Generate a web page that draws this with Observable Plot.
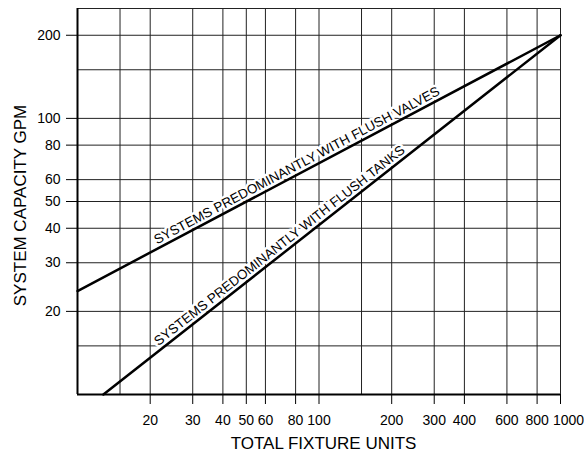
<!DOCTYPE html>
<html><head><meta charset="utf-8">
<script src="https://cdn.jsdelivr.net/npm/d3@7"></script>
<script src="https://cdn.jsdelivr.net/npm/@observablehq/plot@0.6"></script>
<style>body{margin:0;background:#fff} #chart{width:584px;height:452px}</style>
</head><body><div id="chart"></div>
<script>
// Data (log-log chart)
const xTicks = [20, 30, 40, 50, 60, 80, 100, 200, 300, 400, 600, 800, 1000];
const yTicks = [20, 30, 40, 50, 60, 80, 100, 200];
const xGrid = [15, 20, 30, 40, 50, 60, 80, 100, 150, 200, 300, 400, 600, 800];
const yGrid = [15, 20, 30, 40, 50, 60, 80, 100, 150, 200];
const valvesX = [10, 1000];
const valvesY = [23.7, 200];
const tanksX = [12.8, 1000];
const tanksY = [10, 200];
const seriesNames = ["SYSTEMS PREDOMINANTLY WITH FLUSH VALVES", "SYSTEMS PREDOMINANTLY WITH FLUSH TANKS"];
const labelX = [84, 72];
const xLabel = "TOTAL FIXTURE UNITS";
const yLabel = "SYSTEM CAPACITY GPM";

const W = 584, H = 452, mL = 77, mR = 24, mT = 8, mB = 58;
const xDomain = [10, 1000], yDomain = [10, 250];
const font = "'Liberation Sans', Arial, Helvetica, sans-serif";

const xs = Plot.scale({x: {type: "log", domain: xDomain, range: [mL, W - mR]}});
const ys = Plot.scale({y: {type: "log", domain: yDomain, range: [H - mB, mT]}});

const series = [[valvesX, valvesY], [tanksX, tanksY]];
const lineData = series.map(([X, Y]) => X.map((x, i) => ({x, y: Y[i]})));

// label anchor on each line (log-linear interpolation along the straight line)
const labels = series.map(([X, Y], k) => {
  const lx = labelX[k];
  const t = (Math.log(lx) - Math.log(X[0])) / (Math.log(X[1]) - Math.log(X[0]));
  const ly = Math.exp(Math.log(Y[0]) + t * (Math.log(Y[1]) - Math.log(Y[0])));
  const px1 = xs.apply(X[0]), py1 = ys.apply(Y[0]), px2 = xs.apply(X[1]), py2 = ys.apply(Y[1]);
  const angle = Math.atan2(py2 - py1, px2 - px1) * 180 / Math.PI;
  return {x: lx, y: ly, text: seriesNames[k], angle};
});
const d = 4;
const labelMarks = labels.map(L => {
  const r = L.angle * Math.PI / 180;
  return Plot.text([L], {
    x: "x", y: "y", text: "text", rotate: L.angle,
    dx: d * Math.sin(r), dy: -d * Math.cos(r),
    textAnchor: "middle", lineAnchor: "bottom",
    fontSize: 13.4, fontFamily: font, fill: "#000",
    stroke: "#fff", strokeWidth: 5, paintOrder: "stroke"
  });
});

const xTickLabels = xTicks.filter(v => v !== 1000);
const xLastLabel = xTicks.filter(v => v === 1000);

const chart = Plot.plot({
  width: W, height: H,
  marginLeft: mL, marginRight: mR, marginTop: mT, marginBottom: mB,
  style: {fontFamily: font, fontSize: "14px", color: "#000", background: "#fff"},
  x: {type: "log", domain: xDomain},
  y: {type: "log", domain: yDomain},
  marks: [
    Plot.ruleX(xGrid, {stroke: "#222", strokeWidth: 1}),
    Plot.ruleY(yGrid, {stroke: "#222", strokeWidth: 1}),
    Plot.frame({stroke: "#222", strokeWidth: 1}),
    Plot.axisX({ticks: xTicks, tickSize: 10, tickFormat: () => "", label: null, stroke: "#000"}),
    Plot.axisY({ticks: yTicks, tickSize: 11, tickFormat: () => "", label: null, stroke: "#000"}),
    Plot.text(xTickLabels, {x: v => v, text: v => String(v), frameAnchor: "bottom", lineAnchor: "top",
      textAnchor: "middle", dy: 21, fontSize: 14, fill: "#000"}),
    Plot.text(xLastLabel, {x: v => v, text: v => String(v), frameAnchor: "bottom", lineAnchor: "top",
      textAnchor: "middle", dy: 21, dx: 8, fontSize: 14, fill: "#000"}),
    Plot.text(yTicks, {y: v => v, text: v => String(v), frameAnchor: "left", lineAnchor: "middle",
      textAnchor: "end", dx: -17, fontSize: 14, fill: "#000"}),
    Plot.ruleX([10], {stroke: "#000", strokeWidth: 2}),
    Plot.ruleY([10], {stroke: "#000", strokeWidth: 2}),
    ...labelMarks,
    ...lineData.map(data => Plot.line(data, {x: "x", y: "y", stroke: "#000", strokeWidth: 2.5})),
    Plot.text([xLabel], {frameAnchor: "bottom", text: v => v, textAnchor: "middle", lineAnchor: "middle",
      dy: 49, dx: 4.5, fontSize: 17, fill: "#000"}),
    Plot.text([yLabel], {frameAnchor: "left", text: v => v, textAnchor: "middle", lineAnchor: "middle",
      rotate: -90, dx: -57, dy: 4, fontSize: 17, fill: "#000"})
  ]
});
document.getElementById("chart").appendChild(chart);
</script>
</body></html>
